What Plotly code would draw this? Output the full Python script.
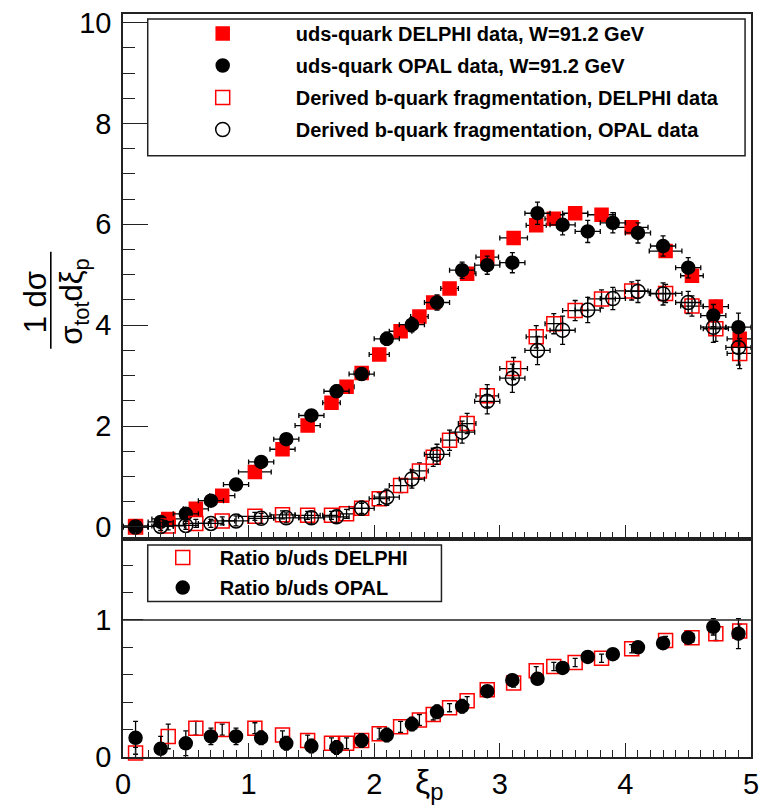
import plotly.graph_objects as go

# ---------------- data ----------------
delphi_x = [0.10, 0.36, 0.58, 0.79, 1.05, 1.27, 1.47, 1.66, 1.78, 1.90, 2.04, 2.21, 2.36, 2.47,
            2.60, 2.74, 2.90, 3.11, 3.29, 3.43, 3.60, 3.81, 4.05, 4.32, 4.53, 4.72, 4.91]
delphi_xerr = [0.10, 0.13, 0.10, 0.10, 0.13, 0.10, 0.10, 0.07, 0.06, 0.06, 0.08, 0.09, 0.07, 0.05,
               0.07, 0.07, 0.09, 0.11, 0.08, 0.07, 0.10, 0.11, 0.13, 0.13, 0.09, 0.10, 0.10]
delphi_uds = [0.02, 0.16, 0.36, 0.62, 1.09, 1.54, 2.01, 2.46, 2.78, 3.05, 3.42, 3.88, 4.17, 4.45,
              4.73, 5.02, 5.35, 5.73, 5.98, 6.11, 6.22, 6.19, 5.94, 5.47, 4.98, 4.37, 3.73]
delphi_uds_err = [0.02, 0.03, 0.04, 0.05, 0.05, 0.06, 0.06, 0.07, 0.07, 0.07, 0.08, 0.08, 0.08, 0.08,
                  0.09, 0.09, 0.09, 0.09, 0.09, 0.10, 0.10, 0.10, 0.10, 0.10, 0.10, 0.12, 0.14]
delphi_b = [0.00, 0.02, 0.07, 0.12, 0.21, 0.24, 0.23, 0.23, 0.26, 0.37, 0.56, 0.82, 1.11, 1.38,
            1.72, 2.05, 2.60, 3.14, 3.77, 4.03, 4.29, 4.52, 4.68, 4.63, 4.38, 3.93, 3.44]
delphi_b_err = [0.05, 0.08, 0.08, 0.08, 0.08, 0.08, 0.08, 0.08, 0.09, 0.10, 0.12, 0.14, 0.16, 0.18,
                0.20, 0.20, 0.22, 0.22, 0.22, 0.20, 0.20, 0.18, 0.18, 0.18, 0.20, 0.25, 0.30]

opal_x = [0.1, 0.3, 0.5, 0.7, 0.9, 1.1, 1.3, 1.5, 1.7, 1.9, 2.1, 2.3, 2.5, 2.7, 2.9, 3.1, 3.3,
          3.5, 3.7, 3.9, 4.1, 4.3, 4.5, 4.7, 4.9]
opal_xerr = [0.1] * len(opal_x)
opal_uds = [0.00, 0.10, 0.26, 0.52, 0.84, 1.29, 1.74, 2.21, 2.69, 3.03, 3.73, 4.01, 4.45, 5.09,
            5.19, 5.24, 6.22, 5.99, 5.86, 6.03, 5.83, 5.57, 5.14, 4.19, 3.96]
opal_uds_err = [0.05, 0.05, 0.05, 0.06, 0.07, 0.08, 0.09, 0.10, 0.12, 0.12, 0.13, 0.14, 0.15, 0.16,
                0.18, 0.20, 0.22, 0.20, 0.22, 0.20, 0.20, 0.20, 0.20, 0.22, 0.28]
opal_b = [0.00, 0.01, 0.03, 0.07, 0.12, 0.17, 0.18, 0.18, 0.20, 0.37, 0.59, 0.95, 1.44, 1.88,
          2.49, 2.95, 3.50, 3.90, 4.30, 4.53, 4.67, 4.62, 4.45, 3.96, 3.56]
opal_b_err = [0.05, 0.08, 0.08, 0.08, 0.10, 0.10, 0.10, 0.12, 0.12, 0.14, 0.16, 0.18, 0.20, 0.22,
              0.25, 0.28, 0.28, 0.28, 0.25, 0.22, 0.22, 0.22, 0.22, 0.30, 0.35]

ratio_delphi = [0.03, 0.15, 0.21, 0.20, 0.21, 0.16, 0.12, 0.10, 0.10, 0.12, 0.17, 0.22, 0.27, 0.31,
                0.36, 0.41, 0.49, 0.54, 0.63, 0.66, 0.69, 0.72, 0.79, 0.85, 0.87, 0.90, 0.92]
ratio_delphi_err = [0.04, 0.09, 0.05, 0.04, 0.04, 0.03, 0.04, 0.04, 0.04, 0.04, 0.04, 0.04, 0.04, 0.04,
                    0.03, 0.03, 0.03, 0.03, 0.03, 0.03, 0.03, 0.03, 0.03, 0.03, 0.03, 0.05, 0.05]
ratio_opal = [0.14, 0.06, 0.10, 0.15, 0.15, 0.14, 0.10, 0.08, 0.07, 0.12, 0.16, 0.24, 0.33, 0.37,
              0.48, 0.56, 0.57, 0.65, 0.73, 0.75, 0.80, 0.83, 0.87, 0.95, 0.90]
ratio_opal_err = [0.12, 0.09, 0.09, 0.06, 0.06, 0.05, 0.05, 0.05, 0.05, 0.05, 0.05, 0.05, 0.05, 0.05,
                  0.04, 0.04, 0.04, 0.04, 0.04, 0.04, 0.04, 0.04, 0.04, 0.06, 0.11]

names_top = ["uds-quark DELPHI data, W=91.2 GeV", "uds-quark OPAL data, W=91.2 GeV",
             "Derived b-quark fragmentation, DELPHI data", "Derived b-quark fragmentation, OPAL data"]
names_bot = ["Ratio b/uds DELPHI", "Ratio b/uds OPAL"]

# ---------------- figure ----------------
W, H = 766, 811
L, R, T, B = 123, 8, 7, 54
PW, PH = W - L - R, H - T - B
split = (757 - 537) / PH

def px(xp):
    return (xp - L) / PW

def py(yp):
    return (757 - yp) / PH

RED = "#ff0000"
BLK = "black"

def ebar(arr):
    return dict(type="data", array=arr, visible=True, color=BLK, thickness=1.3, width=2.5)

fig = go.Figure()

top = [
    (delphi_x, delphi_uds, delphi_uds_err, delphi_xerr, "square", RED, 13),
    (opal_x, opal_uds, opal_uds_err, opal_xerr, "circle", BLK, 13),
    (delphi_x, delphi_b, delphi_b_err, delphi_xerr, "square-open", RED, 14),
    (opal_x, opal_b, opal_b_err, opal_xerr, "circle-open", BLK, 14),
]
for i, (xs, ys, ye, xe, sym, col, sz) in enumerate(top):
    fig.add_trace(go.Scatter(
        x=xs, y=ys, mode="markers", name=names_top[i], legendgroup=f"g{i}",
        marker=dict(symbol=sym, color=col, size=sz, line=dict(color=col, width=1.5)),
        error_y=ebar(ye), error_x=ebar(xe),
        xaxis="x", yaxis="y", legend="legend", cliponaxis=False))

bot = [
    (delphi_x, ratio_delphi, ratio_delphi_err, "square-open", RED, 14),
    (opal_x, ratio_opal, ratio_opal_err, "circle", BLK, 13),
]
for i, (xs, ys, ye, sym, col, sz) in enumerate(bot):
    fig.add_trace(go.Scatter(
        x=xs, y=ys, mode="markers", name=names_bot[i], legendgroup=f"h{i}",
        marker=dict(symbol=sym, color=col, size=sz, line=dict(color=col, width=1.5)),
        error_y=ebar(ye),
        xaxis="x2", yaxis="y2", legend="legend2", cliponaxis=False))

axis_common = dict(showline=True, linecolor="#222", linewidth=1.5, mirror=True,
                   showgrid=False, zeroline=False, ticks="inside", tickcolor="#222",
                   tickwidth=1.3,
                   tickfont=dict(family="Liberation Sans, Arial", size=29, color="black"))

fig.update_layout(
    width=W, height=H,
    margin=dict(l=L, r=R, t=T, b=B),
    paper_bgcolor="white", plot_bgcolor="white",
    showlegend=True,
    xaxis=dict(axis_common, domain=[0, 1], range=[0, 5], anchor="y", showticklabels=False,
               dtick=1, ticklen=14, minor=dict(dtick=0.1, ticklen=7, ticks="inside",
                                                tickcolor="#222", tickwidth=1.2)),
    yaxis=dict(axis_common, domain=[split, 1], range=[-0.24, 10.17], anchor="x",
               dtick=2, ticklen=25, ticklabelstandoff=4,
               minor=dict(dtick=0.5, ticklen=12, ticks="inside", tickcolor="#222", tickwidth=1.2)),
    xaxis2=dict(axis_common, domain=[0, 1], range=[0, 5], anchor="y2",
                dtick=1, ticklen=14, minor=dict(dtick=0.1, ticklen=7, ticks="inside",
                                                 tickcolor="#222", tickwidth=1.2)),
    yaxis2=dict(axis_common, domain=[0, split], range=[0, 1.59], anchor="x2",
                tickvals=[0, 1], ticklen=20, ticklabelstandoff=4,
                minor=dict(dtick=0.2, ticklen=10, ticks="inside", tickcolor="#222", tickwidth=1.2)),
    legend=dict(x=px(150), y=py(7), xanchor="left", yanchor="top",
                bgcolor="rgba(0,0,0,0)", borderwidth=0, itemwidth=136,
                tracegroupgap=3, traceorder="grouped",
                font=dict(family="Liberation Sans, Arial", size=20, color="black", weight="bold")),
    legend2=dict(x=px(146), y=py(536), xanchor="left", yanchor="top",
                 bgcolor="rgba(0,0,0,0)", borderwidth=0, itemwidth=64,
                 tracegroupgap=1, traceorder="grouped",
                 font=dict(family="Liberation Sans, Arial", size=20, color="black", weight="bold")),
)

# legend boxes
fig.add_shape(type="rect", xref="paper", yref="paper", x0=px(148), x1=px(752), y0=py(150), y1=py(12),
              line=dict(color="#222", width=1.5), fillcolor="white", layer="below")
fig.add_shape(type="rect", xref="paper", yref="paper", x0=px(148), x1=px(445), y0=py(600), y1=py(543),
              line=dict(color="#222", width=1.5), fillcolor="white", layer="below")
# reference line at ratio 1
fig.add_shape(type="line", xref="x2", yref="y2", x0=0, x1=5, y0=1, y1=1,
              line=dict(color="#222", width=1.5))
# y-title fraction bar
fig.add_shape(type="line", xref="paper", yref="paper", x0=px(50), x1=px(50), y0=py(345), y1=py(247),
              line=dict(color="black", width=1.6))

tfont = dict(family="Liberation Sans, Arial", size=31, color="black")
fig.add_annotation(xref="paper", yref="paper", x=px(34), y=py(298), text="1 dσ", textangle=-90,
                   showarrow=False, xanchor="center", yanchor="middle", font=tfont)
fig.add_annotation(xref="paper", yref="paper", x=px(74), y=py(298),
                   text="σ<sub>tot</sub>dξ<sub>p</sub>", textangle=-90,
                   showarrow=False, xanchor="center", yanchor="middle", font=tfont)
fig.add_annotation(xref="paper", yref="paper", x=px(432), y=py(784), text="ξ<sub>p</sub>",
                   showarrow=False, xanchor="center", yanchor="middle",
                   font=dict(family="Liberation Sans, Arial", size=34, color="black"))

fig.write_html("out.html")
